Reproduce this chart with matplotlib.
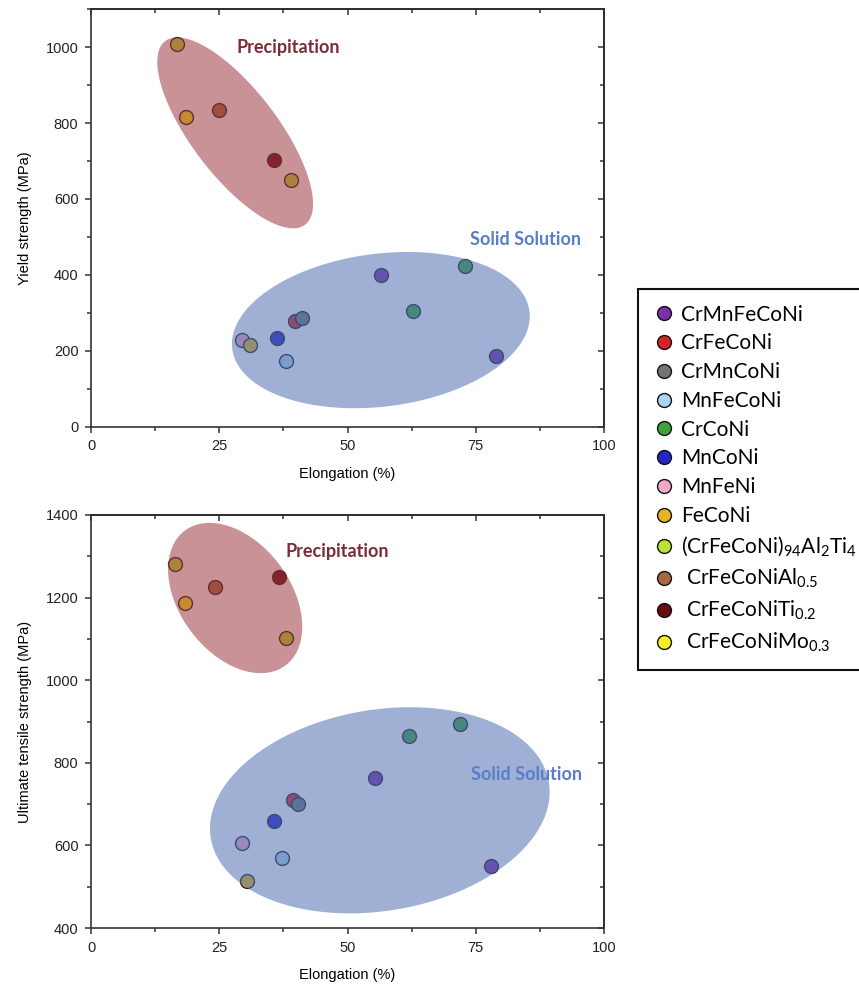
import numpy as np
import matplotlib
matplotlib.use("Agg")
import matplotlib.pyplot as plt
from matplotlib.lines import Line2D
from matplotlib.patches import Polygon
from matplotlib.ticker import MultipleLocator

plt.rcParams['font.family'] = ['Liberation Sans', 'DejaVu Sans']
plt.rcParams['mathtext.fontset'] = 'custom'
plt.rcParams['mathtext.rm'] = 'Lato'
plt.rcParams['mathtext.it'] = 'Lato'

# alloys in legend order
names = ['CrMnFeCoNi', 'CrFeCoNi', 'CrMnCoNi', 'MnFeCoNi', 'CrCoNi', 'MnCoNi',
         'MnFeNi', 'FeCoNi', r'(CrFeCoNi)$_{94}$Al$_2$Ti$_4$',
         r' CrFeCoNiAl$_{0.5}$', r' CrFeCoNiTi$_{0.2}$', r' CrFeCoNiMo$_{0.3}$']
colors = ['#7b2fa8', '#d62222', '#737373', '#a9d5ee', '#3fa23f', '#2424cc',
          '#f2a9c9', '#e8b422', '#b9e233', '#a8693f', '#6a0a12', '#f6f022']

# yield strength vs elongation
ys_elong = [[56.5, 78.9], [39.7], [41.2], [38.0], [62.8, 72.9], [36.2],
            [29.5], [31.0], [16.8, 39.0], [25.0], [35.7], [18.5]]
ys = [[401, 186], [278], [287], [173], [304, 423], [235],
      [230], [217], [1008, 651], [835], [703], [816]]

# ultimate tensile strength vs elongation
uts_elong = [[55.4, 77.9], [39.3], [40.4], [37.2], [61.9, 71.9], [35.6],
             [29.4], [30.4], [16.3, 38.0], [24.2], [36.7], [18.3]]
uts = [[763, 549], [709], [700], [570], [864, 895], [659],
       [607], [513], [1281, 1101], [1226], [1249], [1188]]

# group ellipses: centre x, centre y, semi axes (in % of elongation), tilt (deg)
ys_groups = [(28.1, 774, 22.5, 8.4, -52.7), (56.5, 255, 29.2, 14.9, 7.2)]
uts_groups = [(28.1, 1199, 16.4, 10.8, -53.3), (56.3, 685, 33.4, 19.6, 9.4)]
group_colors = ['#9b3940', '#526fb4']


def draw_ellipse(ax, cx, cy, a, b, ang, color):
    # tilt is given on screen, so work in x units and rescale y
    p0 = ax.transData.transform((0, 0))
    px = ax.transData.transform((1, 0))[0] - p0[0]
    py = ax.transData.transform((0, 1))[1] - p0[1]
    r = py / px
    t = np.linspace(0, 2 * np.pi, 200)
    th = np.radians(ang)
    u = a * np.cos(t)
    v = b * np.sin(t)
    x = cx + u * np.cos(th) - v * np.sin(th)
    y = cy + (u * np.sin(th) + v * np.cos(th)) / r
    ax.add_patch(Polygon(np.column_stack([x, y]), closed=True, fc=color,
                         ec='none', alpha=0.55, zorder=5))


def style_axes(ax, ymax, ymin):
    ax.set_xlim(0, 100)
    ax.set_ylim(ymin, ymax)
    ax.xaxis.set_major_locator(MultipleLocator(25))
    ax.xaxis.set_minor_locator(MultipleLocator(12.5))
    ax.yaxis.set_major_locator(MultipleLocator(200))
    ax.yaxis.set_minor_locator(MultipleLocator(100))
    for s in ax.spines.values():
        s.set_linewidth(1.2)
        s.set_color('#333333')
    ax.tick_params(which='both', direction='out', width=1.1, color='#333333',
                   labelsize=10.5, labelcolor='#222222', pad=5)
    ax.tick_params(which='major', length=4)
    ax.tick_params(which='minor', length=3)
    top = ax.secondary_xaxis('top')
    top.xaxis.set_major_locator(MultipleLocator(25))
    top.xaxis.set_minor_locator(MultipleLocator(12.5))
    top.tick_params(which='both', direction='in', labeltop=False, width=1.1,
                    color='#333333')
    top.tick_params(which='major', length=4)
    top.tick_params(which='minor', length=3)
    top.spines['top'].set_linewidth(1.2)
    right = ax.secondary_yaxis('right')
    right.yaxis.set_major_locator(MultipleLocator(200))
    right.yaxis.set_minor_locator(MultipleLocator(100))
    right.tick_params(which='both', direction='in', labelright=False, width=1.1,
                      color='#333333')
    right.tick_params(which='major', length=4)
    right.tick_params(which='minor', length=3)
    right.spines['right'].set_linewidth(1.2)
    ax.set_xlabel('Elongation (%)', fontsize=10.5, labelpad=10)


fig = plt.figure(figsize=(8.59, 9.89), dpi=100)
ax1 = fig.add_axes([91 / 859, 1 - 427 / 989, 513 / 859, 418 / 989])
ax2 = fig.add_axes([91 / 859, 1 - 928 / 989, 513 / 859, 413 / 989])

style_axes(ax1, 1100, 0)
style_axes(ax2, 1400, 400)
ax1.set_ylabel('Yield strength (MPa)', fontsize=10.5, labelpad=10)
ax2.set_ylabel('Ultimate tensile strength (MPa)', fontsize=10.5, labelpad=10)

for i in range(len(names)):
    ax1.scatter(ys_elong[i], ys[i], s=100, c=colors[i], edgecolors='#222222',
                linewidths=1.0, zorder=3)
    ax2.scatter(uts_elong[i], uts[i], s=100, c=colors[i], edgecolors='#222222',
                linewidths=1.0, zorder=3)

for g, col in zip(ys_groups, group_colors):
    draw_ellipse(ax1, *g, col)
for g, col in zip(uts_groups, group_colors):
    draw_ellipse(ax2, *g, col)

ax1.text(28.3, 998, 'Precipitation', family='Lato', weight='bold', fontsize=13,
         color='#7a2d36', va='center', ha='left', zorder=6)
ax1.text(73.8, 493, 'Solid Solution', family='Lato', weight='bold', fontsize=13,
         color='#5a7dc8', va='center', ha='left', zorder=6)
ax2.text(38.0, 1311, 'Precipitation', family='Lato', weight='bold', fontsize=13,
         color='#7a2d36', va='center', ha='left', zorder=6)
ax2.text(74.0, 772, 'Solid Solution', family='Lato', weight='bold', fontsize=13,
         color='#5a7dc8', va='center', ha='left', zorder=6)

handles = [Line2D([], [], ls='none', marker='o', ms=10, mfc=c, mec='#111111',
                  mew=1.0) for c in colors]
leg = fig.legend(handles, names, loc='upper left',
                 bbox_to_anchor=(638 / 859, 1 - 289 / 989), frameon=True,
                 fancybox=False, edgecolor='#111111', framealpha=1,
                 prop={'family': 'Lato', 'size': 15}, labelspacing=0.42,
                 handletextpad=0.3, handlelength=1.0, borderpad=0.75,
                 borderaxespad=0)
leg.get_frame().set_linewidth(1.5)

fig.savefig('out.png', dpi=100)
